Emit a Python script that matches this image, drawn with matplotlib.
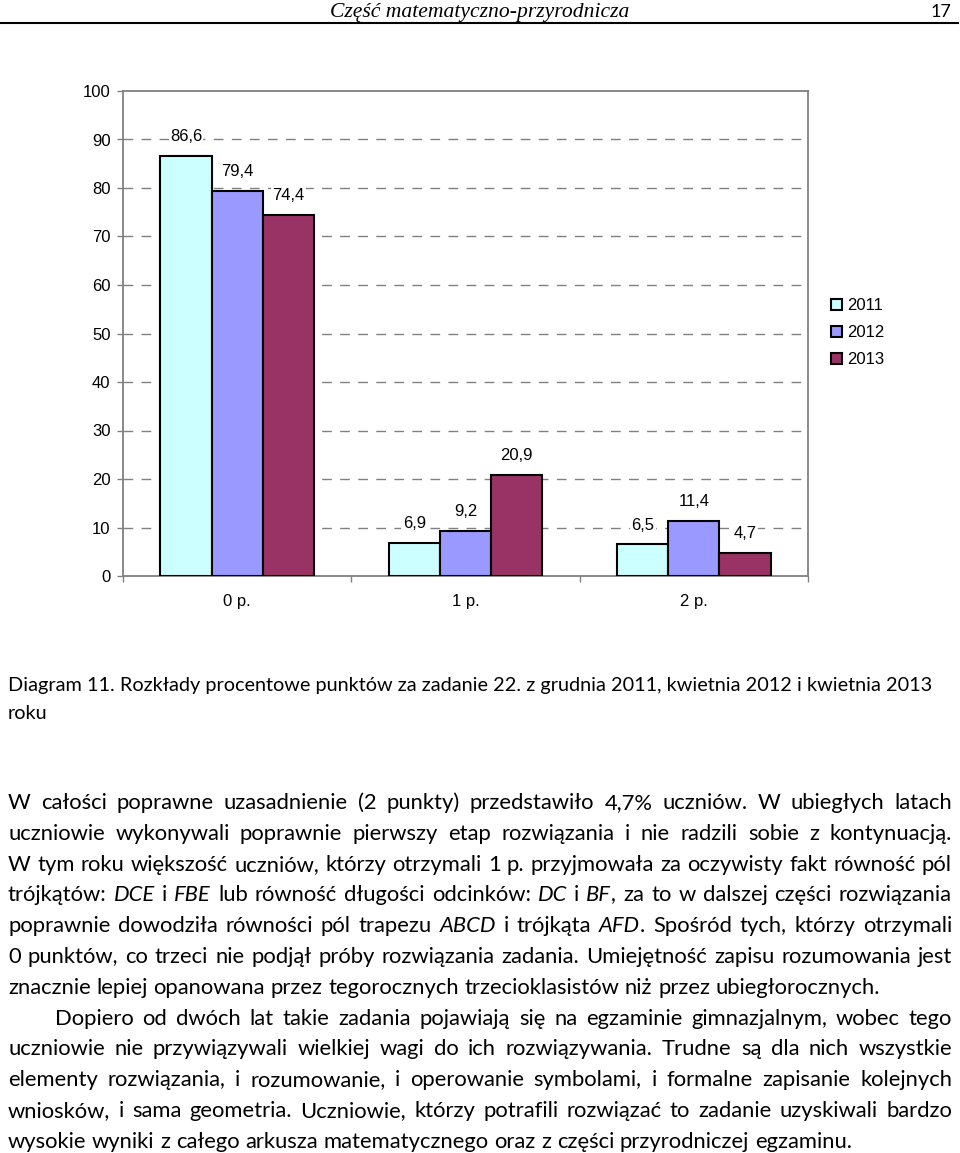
import matplotlib
matplotlib.use('Agg')
import matplotlib.pyplot as plt
from matplotlib.lines import Line2D
import numpy as np

# ---------------- data ----------------
categories = ['0 p.', '1 p.', '2 p.']
years = ['2011', '2012', '2013']
values_2011 = [86.6, 6.9, 6.5]
values_2012 = [79.4, 9.2, 11.4]
values_2013 = [74.4, 20.9, 4.7]
y_ticks = [0, 10, 20, 30, 40, 50, 60, 70, 80, 90, 100]

header_title = 'Część matematyczno-przyrodnicza'
page_number = '17'
caption_lines = [
    'Diagram 11. Rozkłady procentowe punktów za zadanie 22. z grudnia 2011, kwietnia 2012 i kwietnia 2013',
    'roku',
]
# (text, justified, indent) ; *...* marks italic
body_lines = [
    ('W całości poprawne uzasadnienie (2 punkty) przedstawiło 4,7% uczniów. W ubiegłych latach', True, False),
    ('uczniowie wykonywali poprawnie pierwszy etap rozwiązania i nie radzili sobie z kontynuacją.', True, False),
    ('W tym roku większość uczniów, którzy otrzymali 1 p. przyjmowała za oczywisty fakt równość pól', True, False),
    ('trójkątów: *DCE* i *FBE* lub równość długości odcinków: *DC* i *BF*, za to w dalszej części rozwiązania', True, False),
    ('poprawnie dowodziła równości pól trapezu *ABCD* i trójkąta *AFD*. Spośród tych, którzy otrzymali', True, False),
    ('0 punktów, co trzeci nie podjął próby rozwiązania zadania. Umiejętność zapisu rozumowania jest', True, False),
    ('znacznie lepiej opanowana przez tegorocznych trzecioklasistów niż przez ubiegłorocznych.', False, False),
    ('Dopiero od dwóch lat takie zadania pojawiają się na egzaminie gimnazjalnym, wobec tego', True, True),
    ('uczniowie nie przywiązywali wielkiej wagi do ich rozwiązywania. Trudne są dla nich wszystkie', True, False),
    ('elementy rozwiązania, i rozumowanie, i operowanie symbolami, i formalne zapisanie kolejnych', True, False),
    ('wniosków, i sama geometria. Uczniowie, którzy potrafili rozwiązać to zadanie uzyskiwali bardzo', True, False),
    ('wysokie wyniki z całego arkusza matematycznego oraz z części przyrodniczej egzaminu.', False, False),
]

# ---------------- figure ----------------
W, H = 960, 1153
fig = plt.figure(figsize=(W / 100, H / 100), dpi=100)
fig.patch.set_facecolor('white')


def fx(x):
    return x / W


def fy(y):
    return 1 - y / H


renderer = fig.canvas.get_renderer()


def text_width(s, **kw):
    t = fig.text(0, 0, s, **kw)
    w = t.get_window_extent(renderer).width
    t.remove()
    return w


CHART_FONT = 'Liberation Sans'
BODY_FONT = 'Lato'
CFS = 12

# ---------------- chart ----------------
ax = fig.add_axes([fx(123), fy(576), fx(808) - fx(123), fy(91) - fy(576)])
x = np.arange(len(categories))
bw = 0.224
colors = ['#CCFFFF', '#9999FF', '#993366']
series = [values_2011, values_2012, values_2013]
for i, (vals, c, lab) in enumerate(zip(series, colors, years)):
    bars = ax.bar(x + (i - 1) * bw, vals, bw, color=c, edgecolor='black',
                  linewidth=1.5, label=lab, zorder=3)
    for b, v in zip(bars, vals):
        ax.annotate(f'{v:.1f}'.replace('.', ','),
                    (b.get_x() + b.get_width() / 2, v),
                    xytext=(0, 14), textcoords='offset points',
                    ha='center', va='center', fontsize=CFS, family=CHART_FONT,
                    bbox=dict(fc='white', ec='none', pad=1), zorder=4)

for yv in y_ticks[1:-1]:
    ax.axhline(yv, color='#808080', lw=1, linestyle=(0, (7, 6)), zorder=1)

ax.set_xlim(-0.5, len(categories) - 0.5)
ax.set_ylim(y_ticks[0], y_ticks[-1])
ax.set_yticks(y_ticks)
ax.set_yticklabels([str(v) for v in y_ticks], family=CHART_FONT, fontsize=CFS)
ax.set_xticks(np.arange(-0.5, len(categories), 1.0))
ax.set_xticklabels([])
ax.set_xticks(x, minor=True)
ax.set_xticklabels(categories, minor=True, family=CHART_FONT, fontsize=CFS)
ax.tick_params(axis='x', which='major', direction='out', length=4, color='#808080', width=1)
ax.tick_params(axis='x', which='minor', length=0, pad=13)
ax.tick_params(axis='y', direction='out', length=4, color='#808080', width=1, pad=5)
for s in ax.spines.values():
    s.set_color('#808080')
    s.set_linewidth(1.3)

handles, labels = ax.get_legend_handles_labels()
fig.legend(handles, labels, loc='center left', bbox_to_anchor=(fx(823), fy(333)),
           frameon=False, prop={'family': CHART_FONT, 'size': CFS},
           handlelength=0.65, handleheight=0.65, handletextpad=0.3, labelspacing=0.72,
           borderpad=0)

# ---------------- header ----------------
hs = 15 * 300 / text_width(header_title, family='Liberation Serif', style='italic', fontsize=15)
fig.text(fx(480), fy(16.5), header_title, family='Liberation Serif', style='italic',
         fontsize=hs, ha='center', va='baseline')
fig.text(fx(951), fy(16.7), page_number, family=BODY_FONT, fontsize=13, ha='right', va='baseline')
fig.add_artist(Line2D([0, fx(958)], [fy(22.5), fy(22.5)], color='black', lw=1.5))

# ---------------- caption ----------------
cs = 14 * 929 / text_width(caption_lines[0], family=BODY_FONT, fontsize=14)
for i, line in enumerate(caption_lines):
    fig.text(fx(8), fy(691 + i * 28), line, family=BODY_FONT, fontsize=cs,
             ha='left', va='baseline')

# ---------------- body (justified) ----------------
bs = 14 * 877 / text_width(body_lines[6][0], family=BODY_FONT, fontsize=14)
space_w = text_width('a a', family=BODY_FONT, fontsize=bs) - text_width('aa', family=BODY_FONT, fontsize=bs)


def parse_word(word):
    parts = word.split('*')
    return [(p, k % 2 == 1) for k, p in enumerate(parts) if p]


LEFT, RIGHT = 8, 952
for li, (line, justify, indent) in enumerate(body_lines):
    base = 809 + li * 30.8
    words = [parse_word(w) for w in line.split(' ')]
    widths = []
    for wd in words:
        ww = 0
        for seg, it in wd:
            ww += text_width(seg, family=BODY_FONT, fontsize=bs,
                             style='italic' if it else 'normal')
        widths.append(ww)
    start = LEFT + (47 if indent else 0)
    if justify and len(words) > 1:
        gap = (RIGHT - start - sum(widths)) / (len(words) - 1)
    else:
        gap = space_w
    cx = start
    for wd, ww in zip(words, widths):
        sx = cx
        for seg, it in wd:
            fig.text(fx(sx), fy(base), seg, family=BODY_FONT, fontsize=bs,
                     style='italic' if it else 'normal', ha='left', va='baseline')
            sx += text_width(seg, family=BODY_FONT, fontsize=bs,
                             style='italic' if it else 'normal')
        cx += ww + gap

fig.savefig('out.png', dpi=100, facecolor='white')
